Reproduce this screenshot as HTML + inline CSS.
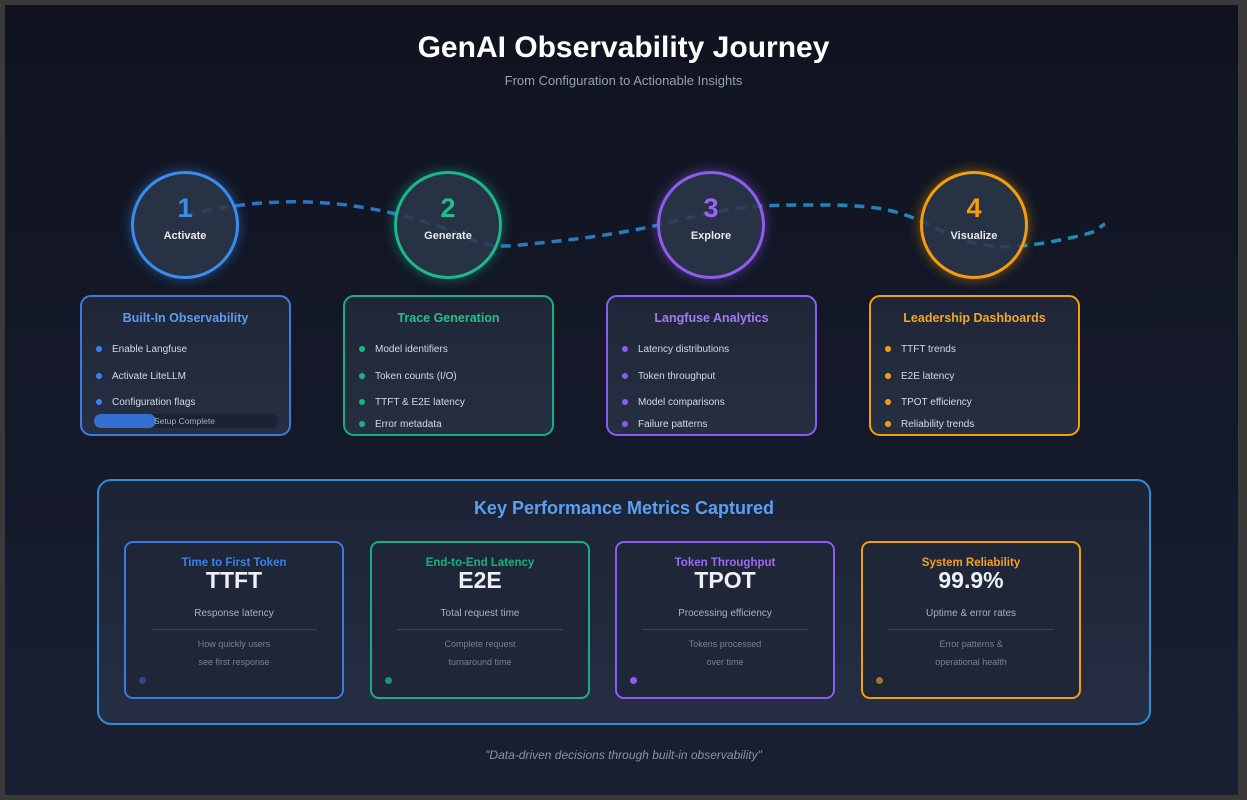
<!DOCTYPE html>
<html><head><meta charset="utf-8"><style>
*{margin:0;padding:0;box-sizing:border-box}
body{width:1247px;height:800px;background:#3a3a3a;font-family:"Liberation Sans",Arial,sans-serif;position:relative;overflow:hidden}
#bg{position:absolute;left:5px;top:5px;width:1233px;height:790px;background:linear-gradient(180deg,#10131f 0%,#151a2b 60%,#1a1f33 100%)}
.a{position:absolute}
.t{text-align:center;color:#fff}
.circ{position:absolute;width:108px;height:108px;border-radius:50%;border:3px solid;background:rgba(45,55,75,.85);text-align:center}
.circ .n{font-size:27px;font-weight:bold;margin-top:19px;line-height:30px}
.circ .l{font-size:11px;font-weight:bold;color:#e6e9f0;margin-top:7px}
.card{position:absolute;width:211px;height:141px;border:2px solid;border-radius:11px;background:linear-gradient(180deg,#1f2638,#262f42)}
.card h3{font-size:12.5px;text-align:center;margin-top:14px;font-weight:bold}
.card ul{list-style:none;position:absolute;left:13px;top:47px}
.card li{font-size:10px;color:#d5d9e2;height:26.5px;position:relative;padding-left:17px}
.card li:before{content:"";position:absolute;left:1px;top:2px;width:6px;height:6px;border-radius:50%;background:var(--c)}
.card li.p{height:22px}
.m{position:absolute;top:541px;width:220px;height:158px;border:2px solid;border-radius:9px;background:#1e2637;text-align:center}
.m .h{font-size:11.5px;font-weight:bold;margin-top:14px}
.m .b{font-size:23px;font-weight:bold;color:#eef0f5;line-height:22px}
.m .s{font-size:10px;color:#aab1bf;margin-top:17px}
.m .hr{height:1px;background:#394357;margin:10px 25px 0}
.m .d{font-size:9px;color:#7a8292;line-height:18px;margin-top:5px}
.m .dot{position:absolute;left:13px;bottom:13px;width:7px;height:7px;border-radius:50%}
</style></head><body>
<div id="bg"></div>
<div class="a t" style="left:0;width:1247px;top:31px;font-size:30px;font-weight:bold">GenAI Observability Journey</div>
<div class="a t" style="left:0;width:1247px;top:73px;font-size:13px;color:#97a0b0">From Configuration to Actionable Insights</div>
<svg class="a" style="left:0;top:0" width="1247" height="300">
<defs><linearGradient id="g" x1="0" x2="1"><stop offset="0" stop-color="#2f6fc4"/><stop offset="1" stop-color="#1a8fb5"/></linearGradient></defs>
<path d="M185 215 C250 200,320 195,400 215 S470 250,520 245 S620 235,680 220 S760 205,820 205 S900 210,940 230 S1010 250,1060 240 S1095 228,1105 224" fill="none" stroke="url(#g)" stroke-width="3.5" stroke-dasharray="10 7"/>
</svg>
<div class="circ" style="left:131px;top:171px;border-color:#3b8cf0;box-shadow:0 0 12px rgba(59,140,240,.5)"><div class="n" style="color:#3d8ef0">1</div><div class="l">Activate</div></div>
<div class="circ" style="left:394px;top:171px;border-color:#19b98a;box-shadow:0 0 12px rgba(25,185,138,.5)"><div class="n" style="color:#1dbf8c">2</div><div class="l">Generate</div></div>
<div class="circ" style="left:657px;top:171px;border-color:#8f5cf0;box-shadow:0 0 12px rgba(143,92,240,.5)"><div class="n" style="color:#9b66f5">3</div><div class="l">Explore</div></div>
<div class="circ" style="left:920px;top:171px;border-color:#f59e0b;box-shadow:0 0 12px rgba(245,158,11,.5)"><div class="n" style="color:#f59e0b">4</div><div class="l">Visualize</div></div>

<div class="card" style="left:80px;top:295px;border-color:#3b7be0;--c:#3b82f6"><h3 style="color:#5a9cf2">Built-In Observability</h3>
<ul><li>Enable Langfuse</li><li>Activate LiteLLM</li><li>Configuration flags</li></ul>
<div class="a" style="left:12px;top:117px;width:184px;height:14px;border-radius:7px;background:#1a2233"></div>
<div class="a" style="left:12px;top:117px;width:62px;height:14px;border-radius:7px;background:#3570d0"></div>
<div class="a" style="left:72px;top:119px;font-size:8.5px;color:#a9b0bd">Setup Complete</div></div>
<div class="card" style="left:343px;top:295px;border-color:#14b07f;--c:#10b981"><h3 style="color:#25c08e">Trace Generation</h3>
<ul><li>Model identifiers</li><li>Token counts (I/O)</li><li class="p">TTFT &amp; E2E latency</li><li class="p">Error metadata</li></ul></div>
<div class="card" style="left:606px;top:295px;border-color:#8b5cf6;--c:#8b5cf6"><h3 style="color:#a07cf2">Langfuse Analytics</h3>
<ul><li>Latency distributions</li><li>Token throughput</li><li class="p">Model comparisons</li><li class="p">Failure patterns</li></ul></div>
<div class="card" style="left:869px;top:295px;border-color:#f59e0b;--c:#f59e0b"><h3 style="color:#f5a623">Leadership Dashboards</h3>
<ul><li>TTFT trends</li><li>E2E latency</li><li class="p">TPOT efficiency</li><li class="p">Reliability trends</li></ul></div>

<div class="a" style="left:97px;top:479px;width:1054px;height:246px;border:2px solid #2a8fd8;border-radius:14px;background:linear-gradient(180deg,#1c2335,#252e43)"></div>
<div class="a t" style="left:97px;width:1054px;top:498px;font-size:18px;font-weight:bold;color:#5aa0f2">Key Performance Metrics Captured</div>

<div class="m" style="left:124px;border-color:#3b7be0"><div class="h" style="color:#3d82e6">Time to First Token</div><div class="b">TTFT</div><div class="s">Response latency</div><div class="hr"></div><div class="d">How quickly users<br>see first response</div><div class="dot" style="background:#2c4c86"></div></div>
<div class="m" style="left:370px;border-color:#14b07f"><div class="h" style="color:#17b282">End-to-End Latency</div><div class="b">E2E</div><div class="s">Total request time</div><div class="hr"></div><div class="d">Complete request<br>turnaround time</div><div class="dot" style="background:#139a70"></div></div>
<div class="m" style="left:615px;border-color:#8b5cf6"><div class="h" style="color:#9b6bf5">Token Throughput</div><div class="b">TPOT</div><div class="s">Processing efficiency</div><div class="hr"></div><div class="d">Tokens processed<br>over time</div><div class="dot" style="background:#8b5cf6"></div></div>
<div class="m" style="left:861px;border-color:#f59e0b"><div class="h" style="color:#f5a020">System Reliability</div><div class="b">99.9%</div><div class="s">Uptime &amp; error rates</div><div class="hr"></div><div class="d">Error patterns &amp;<br>operational health</div><div class="dot" style="background:#a87420"></div></div>

<div class="a t" style="left:0;width:1247px;top:748px;font-size:12px;font-style:italic;color:#8a93a3">"Data-driven decisions through built-in observability"</div>
</body></html>
